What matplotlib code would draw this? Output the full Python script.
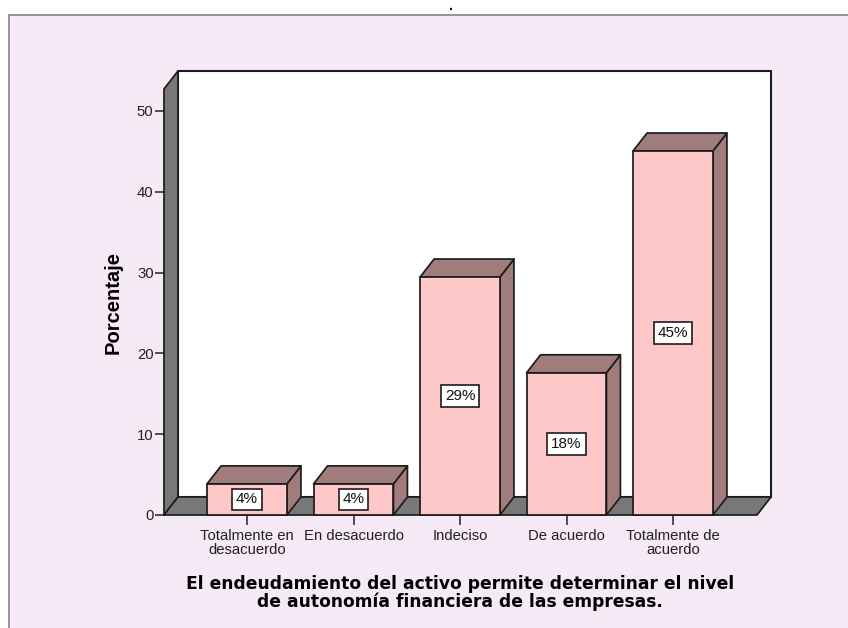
import matplotlib
matplotlib.use("Agg")
import matplotlib.pyplot as plt
from matplotlib.patches import Polygon, Rectangle

categories = ["Totalmente en\ndesacuerdo", "En desacuerdo", "Indeciso", "De acuerdo", "Totalmente de\nacuerdo"]
values = [3.85, 3.85, 29.45, 17.6, 45.05]
labels = ["4%", "4%", "29%", "18%", "45%"]
yticks = [0, 10, 20, 30, 40, 50]

W, H = 848, 628
BG = "#f5eaf5"; FACE = "#ffc8c8"; SIDE = "#a07c7c"; WALL = "#787878"; EDGE = "#1c1c1c"

plt.rcParams["font.family"] = ["Liberation Sans", "DejaVu Sans"]
fig = plt.figure(figsize=(W / 100, H / 100), dpi=100, facecolor="white")
fig.add_artist(Rectangle((8.5 / W, -0.01), 1.0, 1.01 - 14.5 / H, transform=fig.transFigure,
                         facecolor=BG, edgecolor="#8c8c8c", linewidth=1.3, zorder=-5))
fig.text(451 / W, 1 - 10 / H, ".", ha="center", va="baseline", fontsize=10, color="black", fontweight="bold")

x0, x1, y0, y1 = 164, 757, 515, 89
ax = fig.add_axes([x0 / W, 1 - y0 / H, (x1 - x0) / W, (y0 - y1) / H])
ax.patch.set_alpha(0)
pxx = 106.5; pxy = 8.08
xmin, xmax = (x0 - 247) / pxx, (x1 - 247) / pxx
ymax = (y0 - y1) / pxy
ax.set_xlim(xmin, xmax); ax.set_ylim(0, ymax)
dx = 14 / pxx; dy = 18 / pxy
bw = 0.75

def poly(pts, fc, z, lw=1.25):
    ax.add_patch(Polygon(pts, closed=True, facecolor=fc, edgecolor=EDGE, linewidth=lw,
                         clip_on=False, zorder=z, joinstyle="round"))

# walls and floor
poly([(xmin + dx, dy), (xmax + dx, dy), (xmax + dx, ymax + dy), (xmin + dx, ymax + dy)], "white", 1, 1.5)
poly([(xmin, 0), (xmin + dx, dy), (xmin + dx, ymax + dy), (xmin, ymax)], WALL, 2)
poly([(xmin, 0), (xmax, 0), (xmax + dx, dy), (xmin + dx, dy)], WALL, 2)

for i, v in enumerate(values):
    l, r = i - bw / 2, i + bw / 2
    poly([(r, 0), (r + dx, dy), (r + dx, v + dy), (r, v)], SIDE, 3)
    poly([(l, v), (r, v), (r + dx, v + dy), (l + dx, v + dy)], SIDE, 3)
    poly([(l, 0), (r, 0), (r, v), (l, v)], FACE, 4)
    ax.text(i, v / 2, labels[i], ha="center", va="center", fontsize=11, color="#111111", zorder=6,
            bbox=dict(boxstyle="square,pad=0.25", facecolor="white", edgecolor=EDGE, linewidth=1.2))

ax.set_xticks(range(len(categories)))
ax.set_xticklabels(categories, fontsize=10.7, color="#222222", linespacing=1.05)
ax.set_yticks(yticks)
ax.tick_params(axis="y", length=6.5, width=1.1, labelsize=10.7, color="#222222", labelcolor="#222222", pad=1)
ax.tick_params(axis="x", length=7, width=1.1, color="#222222", pad=3)
for s in ax.spines.values():
    s.set_visible(False)

fig.text(113 / W, 1 - 302 / H, "Porcentaje", rotation=90, ha="center", va="center",
         fontsize=14.5, fontweight="bold", color="black")
fig.text(460 / W, 1 - 593 / H, "El endeudamiento del activo permite determinar el nivel\nde autonomía financiera de las empresas.",
         ha="center", va="center", fontsize=12.3, fontweight="bold", color="black", linespacing=0.95,
         family=["DejaVu Sans"])
fig.savefig("out.png", dpi=100, facecolor="white")
